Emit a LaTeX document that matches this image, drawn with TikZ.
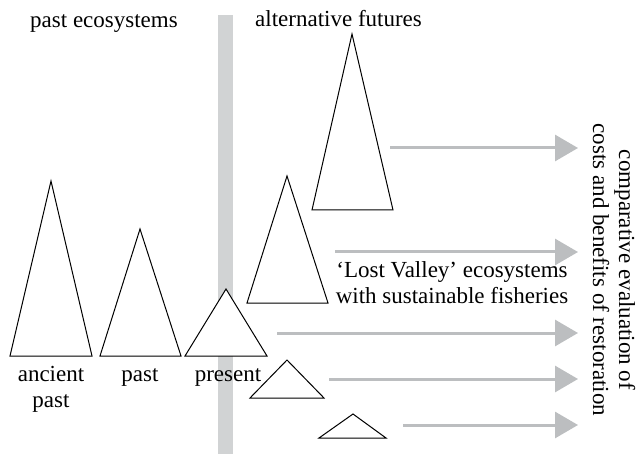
\documentclass[tikz,border=0pt]{standalone}
\usepackage{fontspec}
\setmainfont{Liberation Serif}
\usetikzlibrary{arrows.meta}
\definecolor{bargray}{RGB}{209,211,212}
\definecolor{flowgray}{RGB}{188,190,192}

\begin{document}
\begin{tikzpicture}[x=1pt,y=-1pt,line join=miter]
	\tikzset{peak/.style={draw=black,fill=white,line width=1pt},
		flow/.style={draw=flowgray,line width=3pt,-{Triangle[length=23pt,width=26pt]}},
		lbl/.style={inner sep=0pt,font=\fontsize{23}{26}\selectfont,align=center}};
	\useasboundingbox (0,0) rectangle (642,454);
	
	% divider between past and future
	\fill[bargray] (218,15) rectangle (233,454);
	
	\node[lbl,anchor=base west] (pasteco) at (30,28) {past ecosystems};
	\node[lbl,anchor=base west] (futures) at (255,27) {alternative futures};
	
	% past ecosystems
	\draw[peak] (10,356) -- (51,181) -- (92,356) -- cycle;
	\draw[peak] (100,356) -- (140,229) -- (181,356) -- cycle;
	\draw[peak] (185,356) -- (226,289) -- (267,356) -- cycle;
	
	% alternative futures
	\draw[peak] (312,210) -- (352,34) -- (393,210) -- cycle;
	\draw[peak] (247,303) -- (287,176) -- (328,303) -- cycle;
	\draw[peak] (250,398) -- (287,360) -- (324,398) -- cycle;
	\draw[peak] (319,438) -- (353,414) -- (386,438) -- cycle;
	
	% multi-line nodes: base is the last line
	\node[lbl,anchor=base] (ancient) at (51,407) {ancient\\past};
	\node[lbl,anchor=base] (past) at (140,381) {past};
	\node[lbl,anchor=base] (present) at (228,381) {present};
	\node[lbl,anchor=base] (lost) at (452,303) {`Lost Valley' ecosystems\\with sustainable fisheries};
	
	\foreach \n/\xs/\yy in {1/390/148, 2/335/252, 3/277/333, 4/329/379, 5/403/425} {
		\coordinate (s\n) at (\xs,\yy);
		\coordinate (e\n) at (578,\yy);
		\draw[flow] (s\n) -- (e\n);
	}
	
	\node[lbl,rotate=-90] (eval) at (614,270) {comparative evaluation of\\costs and benefits of restoration};
\end{tikzpicture}
\end{document}
